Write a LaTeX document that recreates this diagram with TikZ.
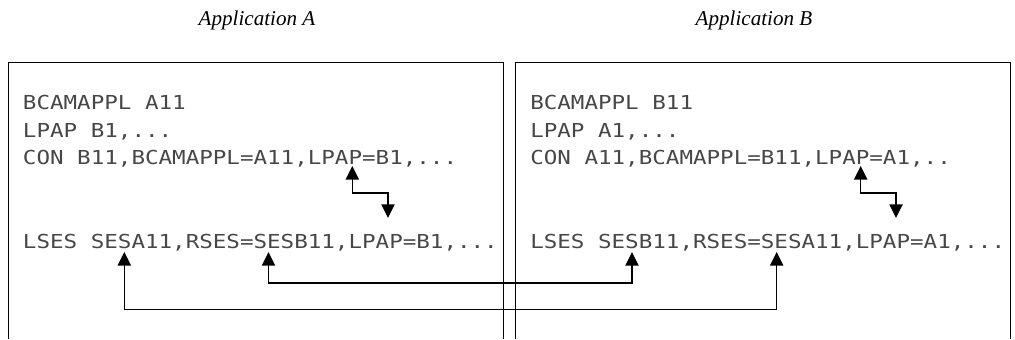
\documentclass[tikz,border=0pt]{standalone}
\usepackage{fontspec}
\usetikzlibrary{arrows.meta}
\newfontfamily\codefont[FakeStretch=1.17]{DejaVu Sans Mono}
\newfontfamily\titlefont{Liberation Serif}
\tikzset{
  codeline/.style={anchor=base west, inner sep=0pt, text=black!72,
    font=\codefont\fontsize{13.7}{16}\selectfont},
  apptitle/.style={anchor=center, inner sep=0pt,
    font=\titlefont\itshape\fontsize{15}{18}\selectfont},
  frame/.style={line width=0.025cm},
  link/.style={line width=0.035cm,
    {Triangle[width=0.33cm,length=0.34cm]}-{Triangle[width=0.33cm,length=0.34cm]}}
}
\begin{document}
\begin{tikzpicture}
                    \useasboundingbox (0.000000,0.000000) rectangle (25.375000,8.475000);
                    {

                    % Marking title of application A
                    \node [apptitle] (titleA) at (6.425000,7.975000) {Application A};%

                    % Marking title of application B
                    \node [apptitle] (titleB) at (18.850000,7.975000) {Application B};%

                    % Drawing frame of application A
                    \draw [frame] (0.212500,0.000000) -- (0.212500,6.925000) -- (12.587500,6.925000) -- (12.587500,0.000000);%

                    % Drawing frame of application B
                    \draw [frame] (12.875000,0.000000) -- (12.875000,6.925000) -- (25.250000,6.925000) -- (25.250000,0.000000);%

                    % Marking statements of application A
                    \node [codeline] (applA) at (0.567500,5.737500) {BCAMAPPL A11};%
                    \node [codeline] (lpapA) at (0.567500,5.050000) {LPAP B1,...};%
                    \node [codeline] (conA) at (0.567500,4.362500) {CON B11,BCAMAPPL=A11,LPAP=B1,...};%
                    \node [codeline] (lsesA) at (0.567500,2.275000) {LSES SESA11,RSES=SESB11,LPAP=B1,...};%

                    % Marking statements of application B
                    \node [codeline] (applB) at (13.250000,5.737500) {BCAMAPPL B11};%
                    \node [codeline] (lpapB) at (13.250000,5.050000) {LPAP A1,...};%
                    \node [codeline] (conB) at (13.250000,4.362500) {CON A11,BCAMAPPL=B11,LPAP=A1,..};%
                    \node [codeline] (lsesB) at (13.250000,2.275000) {LSES SESB11,RSES=SESA11,LPAP=A1,...};%

                    % Marking points the arrows go to
                    \coordinate (conlpapA) at (8.807500,4.325000);%
                    \coordinate (lseslpapA) at (9.700000,3.025000);%
                    \coordinate (conlpapB) at (21.517500,4.325000);%
                    \coordinate (lseslpapB) at (22.400000,3.025000);%
                    \coordinate (sesaA) at (3.107500,2.175000);%
                    \coordinate (sesbA) at (6.712500,2.175000);%
                    \coordinate (sesbB) at (15.800000,2.175000);%
                    \coordinate (sesaB) at (19.417500,2.175000);%

                    % Drawing link CON LPAP -- LSES LPAP in A
                    \draw [link] (conlpapA) -- ++(0.000000,-0.675000) -| (lseslpapA);%

                    % Drawing link CON LPAP -- LSES LPAP in B
                    \draw [link] (conlpapB) -- ++(0.000000,-0.675000) -| (lseslpapB);%

                    % Drawing link SESB11 A -- SESB11 B
                    \draw [link] (sesbA) -- ++(0.000000,-0.775000) -| (sesbB);%

                    % Drawing link SESA11 A -- SESA11 B
                    \draw [link] (sesaA) -- ++(0.000000,-1.437500) -| (sesaB);%
                    }
                    \end{tikzpicture}
\end{document}
